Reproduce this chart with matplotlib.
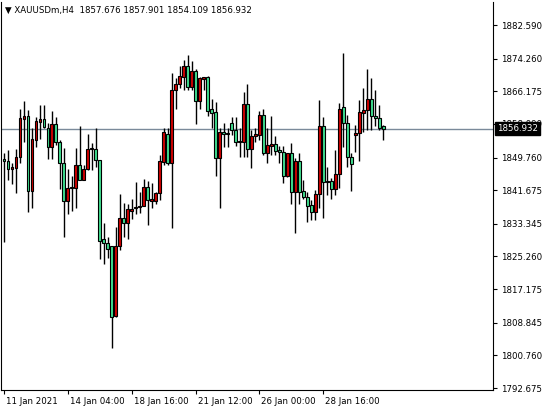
import matplotlib
matplotlib.use("Agg")
import matplotlib.pyplot as plt
import matplotlib.transforms as mt
import numpy as np

opens  = [1849.5,1848.9,1846.8,1847.1,1849.8,1859.4,1860.0,1841.5,1854.0,1858.6,
          1859.2,1857.2,1852.4,1858.0,1853.5,1848.3,1839.1,1842.1,1842.3,1847.8,
          1844.3,1846.8,1851.8,1852.0,1849.1,1829.5,1828.5,1827.9,1810.5,1827.9,
          1834.7,1833.6,1836.6,1837.2,1837.4,1837.8,1842.5,1839.1,1839.1,1840.9,
          1848.7,1855.7,1848.5,1866.6,1868.1,1869.8,1872.4,1867.3,1871.2,1863.8,
          1869.3,1869.6,1861.7,1861.0,1849.6,1856.0,1855.5,1858.2,1856.7,1853.7,
          1853.7,1863.0,1851.8,1855.0,1855.3,1860.3,1850.8,1852.7,1853.1,1851.6,
          1851.2,1845.3,1850.8,1841.3,1849.0,1841.5,1839.9,1838.0,1836.2,1840.7,
          1857.6,1843.6,1844.0,1841.9,1845.7,1862.2,1858.4,1849.8,1855.4,1855.8,
          1860.9,1861.5,1864.2,1860.0,1859.5,1857.676]
highs  = [1850.8,1851.6,1848.5,1851.8,1861.7,1863.8,1861.5,1857.2,1859.7,1862.9,
          1862.8,1858.2,1861.3,1859.7,1854.1,1852.2,1846.8,1845.2,1852.2,1857.6,
          1847.8,1855.6,1853.4,1857.0,1849.1,1833.6,1830.0,1827.9,1832.6,1840.7,
          1838.4,1838.2,1839.6,1843.6,1841.3,1844.4,1843.9,1843.4,1841.3,1850.3,
          1857.2,1857.0,1870.6,1869.5,1872.4,1873.8,1875.2,1873.7,1871.8,1869.8,
          1869.8,1869.95,1864.2,1863.6,1857.0,1858.2,1857.0,1859.9,1859.9,1857.0,
          1866.1,1868.0,1856.6,1857.0,1861.4,1861.7,1857.2,1860.0,1855.1,1852.6,
          1852.6,1851.0,1853.3,1849.6,1851.0,1844.2,1841.3,1839.2,1841.6,1864.0,
          1859.7,1847.5,1844.6,1851.6,1863.2,1875.6,1860.3,1851.0,1857.8,1863.9,
          1867.1,1871.7,1869.4,1866.6,1862.8,1857.901]
lows   = [1828.9,1844.2,1843.2,1841.0,1848.5,1853.7,1836.3,1837.3,1852.3,1854.4,
          1857.0,1849.3,1849.3,1852.8,1841.9,1830.2,1835.9,1836.6,1837.3,1844.2,
          1844.2,1846.7,1846.7,1847.5,1824.7,1823.4,1825.0,1802.5,1810.3,1826.8,
          1830.0,1829.5,1834.5,1835.9,1836.1,1837.8,1833.0,1837.2,1838.2,1839.2,
          1847.9,1847.9,1832.4,1861.9,1866.9,1866.5,1866.6,1866.5,1858.1,1861.7,
          1866.5,1860.0,1857.0,1845.2,1837.3,1852.4,1852.4,1855.3,1852.6,1849.8,
          1850.0,1849.8,1847.1,1853.7,1854.1,1850.4,1848.3,1850.4,1850.4,1848.3,
          1843.4,1845.0,1838.2,1831.1,1838.2,1839.6,1833.9,1834.3,1834.3,1837.2,
          1834.9,1840.5,1839.4,1840.5,1842.1,1852.4,1847.5,1841.5,1851.2,1849.0,
          1856.2,1856.6,1856.6,1857.6,1856.7,1854.109]
closes = [1849.0,1846.8,1847.4,1849.8,1859.5,1860.0,1841.5,1854.3,1858.8,1859.2,
          1857.4,1852.4,1858.0,1853.5,1848.3,1839.1,1842.1,1842.5,1847.8,1844.3,
          1846.8,1852.0,1852.1,1849.1,1829.2,1828.5,1827.0,1810.3,1827.9,1834.7,
          1833.6,1836.9,1837.0,1837.6,1837.8,1842.5,1839.2,1839.5,1840.9,1848.9,
          1856.0,1848.5,1866.6,1868.1,1869.9,1872.4,1867.3,1871.2,1863.8,1869.4,
          1869.6,1861.4,1860.9,1849.6,1856.0,1855.5,1855.7,1856.6,1853.7,1853.9,
          1863.0,1851.8,1855.1,1855.6,1860.3,1850.8,1852.9,1853.1,1851.5,1851.2,
          1845.3,1850.8,1841.3,1849.0,1841.3,1839.9,1837.8,1836.2,1840.7,1857.6,
          1843.8,1844.0,1841.9,1845.7,1861.9,1858.4,1849.8,1848.1,1855.8,1861.1,
          1861.5,1864.2,1860.0,1859.5,1857.2,1856.932]

price_ticks = [1882.590,1874.260,1866.175,1858.090,1849.760,1841.675,1833.345,
               1825.260,1817.175,1808.845,1800.760,1792.675]
time_idx = [0,16,32,48,64,80]
time_labels = ["11 Jan 2021","14 Jan 04:00","18 Jan 16:00","21 Jan 12:00","26 Jan 00:00","28 Jan 16:00"]
title = "XAUUSDm,H4  1857.676 1857.901 1854.109 1856.932"
last_price = 1856.932

FS = 6.2
W, H = 544, 412
fig = plt.figure(figsize=(W/100, H/100), dpi=100)
ax = fig.add_axes([1/W, (H-390)/H, 492/W, 388/H])
ax.set_xlim(-0.75, 122.5)
ax.set_ylim(1792.18, 1888.29)

o = np.array(opens); c = np.array(closes)
x = np.arange(len(o))
ax.axhline(last_price, color='#7a8a9a', lw=1, zorder=1)
ax.vlines(x, lows, highs, color='black', lw=1, zorder=2)
bull = c >= o
cols = np.where(bull, '#d00000', '#40e090')
hgt = np.maximum(np.abs(c-o), 0.25)
ax.bar(x, hgt, bottom=np.minimum(o, c), width=0.7, color=cols,
       edgecolor='black', linewidth=0.8, zorder=3)

ax.yaxis.tick_right()
ax.set_yticks(price_ticks)
ax.set_yticklabels([f"{p:.3f}" for p in price_ticks], fontsize=FS)
ax.tick_params(axis='y', length=3, pad=3)
ax.set_xticks(time_idx)
ax.set_xticklabels(time_labels, fontsize=FS, ha='left')
ax.tick_params(axis='x', length=3, pad=2)
for lab in ax.get_xticklabels():
    lab.set_transform(lab.get_transform() + mt.ScaledTranslation(2/100, 0, fig.dpi_scale_trans))
ax.spines['top'].set_visible(False)
ax.spines['left'].set_linewidth(0.8)

ax.text(0.008, 0.99, "\u25BC " + title, transform=ax.transAxes,
        fontsize=FS, va='top', ha='left')
ax.annotate(f"{last_price:.3f}", xy=(1, last_price), xycoords=('axes fraction', 'data'),
            xytext=(3, 0), textcoords='offset points', fontsize=FS, color='white',
            va='center', ha='left', annotation_clip=False,
            bbox=dict(boxstyle='square,pad=0.2', fc='black', ec='black'), zorder=10)
fig.savefig("out.png", dpi=100)
